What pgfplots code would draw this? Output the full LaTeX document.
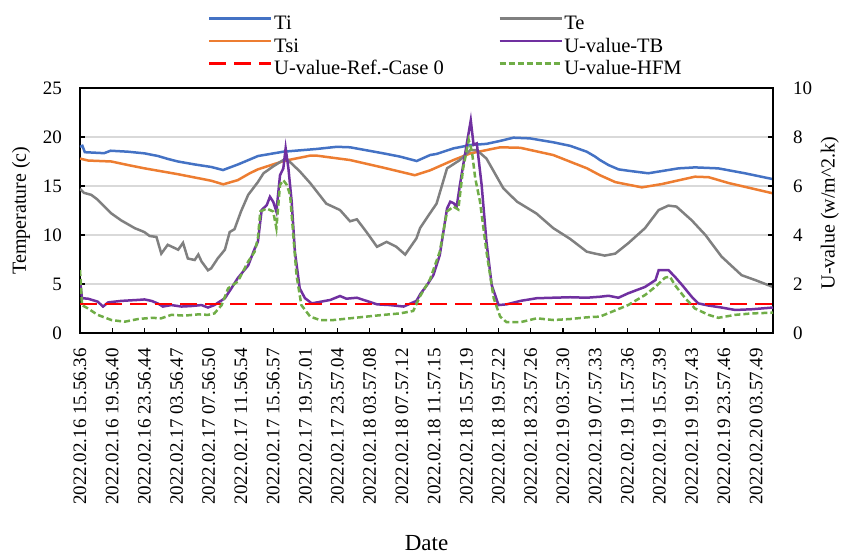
\documentclass[border=0pt]{standalone}
\usepackage{fontspec}
\setmainfont{Liberation Serif}
\usepackage{pgfplots}
\pgfplotsset{compat=1.18}
\definecolor{cTi}{HTML}{4472C4}
\definecolor{cTsi}{HTML}{ED7D31}
\definecolor{cTe}{HTML}{808080}
\definecolor{cTB}{HTML}{7030A0}
\definecolor{cRef}{HTML}{FF0000}
\definecolor{cHFM}{HTML}{70AD47}
\definecolor{cGrid}{HTML}{D9D9D9}
\begin{document}
\begin{tikzpicture}
\pgfplotsset{
  common/.style={
    scale only axis, width=693pt, height=245pt,
    xmin=0, xmax=86.1,
    tick align=inside, major tick length=5pt,
    every tick/.style={black, line width=1.2pt},
    /pgf/number format/assume math mode=true,
    ticklabel style={font=\fontsize{19}{21}\selectfont, inner sep=0pt},
    axis line style={line width=1.5pt},
  },
}
\begin{axis}[common, name=ax,
  ymin=0, ymax=25, ytick={0,5,...,25},
  xtick={0,4,...,84}, xtick pos=left, ytick pos=left,
  ymajorgrids, major grid style={cGrid, line width=1.5pt},
  xticklabels={2022.02.16 15.56.36,2022.02.16 19.56.40,2022.02.16 23.56.44,2022.02.17 03.56.47,2022.02.17 07.56.50,2022.02.17 11.56.54,2022.02.17 15.56.57,2022.02.17 19.57.01,2022.02.17 23.57.04,2022.02.18 03.57.08,2022.02.18 07.57.12,2022.02.18 11.57.15,2022.02.18 15.57.19,2022.02.18 19.57.22,2022.02.18 23.57.26,2022.02.19 03.57.30,2022.02.19 07.57.33,2022.02.19 11.57.36,2022.02.19 15.57.39,2022.02.19 19.57.43,2022.02.19 23.57.46,2022.02.20 03.57.49},
  xticklabel style={rotate=90, anchor=east},
  xticklabel shift=15pt, yticklabel shift=18pt,
  xlabel={Date},
  xlabel style={at={(axis description cs:0.5,-0.857)}, anchor=center, font=\fontsize{23}{25}\selectfont},
  ylabel={Temperature (c)},
  ylabel style={at={(axis description cs:-0.085,0.5)}, anchor=center, font=\fontsize{20}{22}\selectfont},
]
% Ti
\addplot[cTi, line width=2.5pt, forget plot] coordinates {
(0,19.0) (0.3,19.1) (0.6,18.45) (3.0,18.35) (3.8,18.6) (5.96,18.5) (8.03,18.33) (9.69,18.06) (10.93,17.76) (12.18,17.5) (14.25,17.2) (16.32,16.94) (17.77,16.63) (19.63,17.2) (22.12,18.06) (25.26,18.5) (29.4,18.78) (31.9,19.0) (33.55,18.95) (37.7,18.33) (39.76,18.0) (41.83,17.55) (43.5,18.16) (44.3,18.27) (46.4,18.84) (48.5,19.18) (50.5,19.3) (52.2,19.6) (53.85,19.93) (55.9,19.86) (58.8,19.46) (60.9,19.1) (62.96,18.5) (64.0,18.0) (64.6,17.65) (65.66,17.14) (66.9,16.7) (68.1,16.56) (70.6,16.3) (74.35,16.8) (76.4,16.9) (79.3,16.8) (82.6,16.3) (86.1,15.7)};
% Tsi
\addplot[cTsi, line width=2.5pt, forget plot] coordinates {
(0,17.8) (1.0,17.6) (3.9,17.5) (5.96,17.14) (8.03,16.8) (12.2,16.2) (16.3,15.54) (17.8,15.17) (19.6,15.6) (21.1,16.3) (22.1,16.7) (25.3,17.55) (28.6,18.1) (29.4,18.1) (33.55,17.65) (37.7,16.87) (41.6,16.1) (43.5,16.6) (46.4,17.65) (48.5,18.33) (52.2,18.95) (54.7,18.9) (58.8,18.16) (63.0,16.8) (64.6,16.1) (66.5,15.4) (69.8,14.86) (72.3,15.2) (76.4,15.95) (78.1,15.9) (80.6,15.3) (86.1,14.25)};
% Te
\addplot[cTe, line width=2.5pt, forget plot] coordinates {
(0,14.7) (0.5,14.3) (1.4,14.1) (2.2,13.6) (3.9,12.2) (5.1,11.5) (6.8,10.7) (8.0,10.3) (8.65,9.9) (9.5,9.8) (10.1,8.1) (10.9,9.0) (12.2,8.5) (12.8,9.2) (13.4,7.6) (14.25,7.45) (14.7,8.0) (15.1,7.3) (15.9,6.4) (16.3,6.6) (17.1,7.6) (18.0,8.5) (18.6,10.3) (19.2,10.6) (20.0,12.4) (20.9,14.1) (22.1,15.4) (22.8,16.3) (24.0,17.0) (25.26,17.65) (25.7,17.75) (27.3,16.5) (28.6,15.3) (30.6,13.2) (32.3,12.55) (33.55,11.4) (34.4,11.6) (35.6,10.3) (36.9,8.8) (38.1,9.3) (39.3,8.8) (40.4,8.0) (41.8,9.66) (42.25,10.7) (43.3,12.0) (44.3,13.2) (45.6,16.8) (47.2,17.65) (48.5,18.67) (49.3,18.67) (50.5,17.8) (52.6,14.76) (54.3,13.4) (56.7,12.2) (58.8,10.7) (60.9,9.6) (62.96,8.3) (64.0,8.1) (65.2,7.9) (66.5,8.1) (68.1,9.15) (70.2,10.7) (71.9,12.55) (73.1,13.0) (74.1,12.9) (76.0,11.5) (77.7,10.0) (79.7,7.8) (82.2,5.9) (83.9,5.4) (86.1,4.7)};
\end{axis}
\begin{axis}[common,
  ymin=0, ymax=10, ytick={0,2,...,10},
  axis y line*=right, axis x line=none,
  yticklabel shift=20pt,
  ylabel={U-value (w/m\textasciicircum 2.k)},
  ylabel style={at={(axis description cs:1.082,0.49)}, anchor=center, rotate=0, font=\fontsize{20}{22}\selectfont},
  legend columns=2, legend cell align=left,
  legend style={at={(axis description cs:0.1804,1.31)}, anchor=north west, draw=none, fill=none,
    font=\fontsize{20.5}{23}\selectfont, column sep=0pt, row sep=0pt,
    nodes={inner sep=1.5pt, text height=14pt, text depth=5.5pt},
    /tikz/every even column/.append style={column sep=53pt}},
  legend image code/.code={\draw[#1] (0pt,7pt) -- (62pt,7pt);},
]
\addlegendimage{cTi, line width=2.5pt}
\addlegendentry{Ti}
\addlegendimage{cTe, line width=2.5pt}
\addlegendentry{Te}
\addlegendimage{cTsi, line width=2.5pt}
\addlegendentry{Tsi}
\addlegendimage{cTB, line width=2.5pt}
\addlegendentry{U-value-TB}
\addlegendimage{cRef, line width=2.5pt, dash pattern=on 17pt off 8pt}
\addlegendentry{U-value-Ref.-Case 0}
\addlegendimage{cHFM, line width=2.5pt, dash pattern=on 6pt off 3pt}
\addlegendentry{U-value-HFM}
% U-value-TB
\addplot[cTB, line width=2.5pt, forget plot] coordinates {
(0,2.16) (0.25,1.42) (1.0,1.40) (2.2,1.28) (2.86,1.08) (3.5,1.25) (5.1,1.31) (7.2,1.35) (8.0,1.37) (8.9,1.31) (9.7,1.20) (10.3,1.08) (11.35,1.14) (12.6,1.08) (13.8,1.10) (15.1,1.14) (15.9,1.04) (16.7,1.14) (18.0,1.42) (18.8,1.82) (19.6,2.24) (20.9,2.76) (21.7,3.44) (22.1,3.72) (22.57,5.02) (23.2,5.22) (23.6,5.56) (24.0,5.36) (24.4,4.96) (24.85,6.44) (25.26,6.72) (25.55,7.54) (25.9,6.7) (26.3,5.36) (26.7,3.32) (27.3,1.82) (27.95,1.42) (28.8,1.21) (29.8,1.27) (31.1,1.35) (32.3,1.51) (33.1,1.40) (34.4,1.44) (35.6,1.31) (36.9,1.17) (38.5,1.14) (40.2,1.08) (41.8,1.31) (42.3,1.6) (43.1,1.95) (43.9,2.36) (44.7,3.18) (45.6,5.08) (46.0,5.36) (46.4,5.3) (46.8,5.16) (47.2,6.04) (47.6,6.84) (48.3,8.2) (48.55,8.68) (48.9,7.68) (49.3,7.74) (49.9,6.04) (50.5,3.72) (51.15,1.96) (52.0,1.14) (53.0,1.17) (54.7,1.31) (56.75,1.42) (58.8,1.44) (60.9,1.46) (62.96,1.44) (64.6,1.48) (65.66,1.52) (66.9,1.44) (68.1,1.62) (70.2,1.88) (71.5,2.16) (71.9,2.57) (73.1,2.57) (73.9,2.3) (74.8,1.96) (76.0,1.48) (76.8,1.21) (78.1,1.12) (79.7,1.04) (81.4,0.94) (83.5,0.97) (86.1,1.04)};
% U-value-Ref.-Case 0
\addplot[cRef, line width=2.5pt, dash pattern=on 17pt off 8pt, forget plot] coordinates {(0,1.18) (86.1,1.18)};
% U-value-HFM
\addplot[cHFM, line width=2.5pt, dash pattern=on 6pt off 3pt, forget plot] coordinates {
(0,2.57) (0.25,1.14) (1.0,1.0) (2.2,0.74) (3.9,0.53) (5.55,0.46) (7.2,0.57) (8.9,0.62) (10.1,0.6) (11.35,0.74) (13.0,0.71) (14.7,0.76) (15.9,0.74) (16.7,0.8) (17.6,1.14) (18.4,1.82) (19.6,2.1) (20.9,2.92) (21.7,3.32) (22.1,3.86) (22.4,4.96) (23.2,5.08) (24.0,4.96) (24.4,4.28) (24.85,6.04) (25.26,6.24) (25.7,6.04) (26.1,5.64) (26.5,4.0) (26.9,2.36) (27.5,1.14) (28.6,0.67) (29.8,0.53) (31.5,0.53) (33.55,0.6) (35.6,0.67) (37.7,0.74) (39.76,0.8) (41.4,0.9) (42.25,1.5) (43.5,2.2) (44.7,3.32) (45.6,4.96) (46.4,5.16) (47.0,5.04) (47.6,6.72) (48.3,7.88) (48.7,7.4) (49.1,6.32) (49.7,5.36) (50.5,3.32) (51.4,1.42) (52.2,0.67) (53.0,0.44) (54.7,0.44) (56.75,0.6) (58.8,0.53) (60.9,0.57) (62.96,0.64) (64.6,0.67) (66.1,0.87) (68.1,1.14) (70.2,1.55) (71.5,1.89) (72.7,2.26) (73.3,2.3) (73.9,1.96) (75.2,1.42) (76.4,1.0) (78.1,0.74) (79.3,0.62) (81.4,0.74) (83.5,0.8) (86.1,0.83)};
\end{axis}
\pgfresetboundingbox
\path ([shift={(-80pt,-222pt)}]ax.south west) rectangle ([shift={(71pt,88pt)}]ax.north east);
\end{tikzpicture}
\end{document}
